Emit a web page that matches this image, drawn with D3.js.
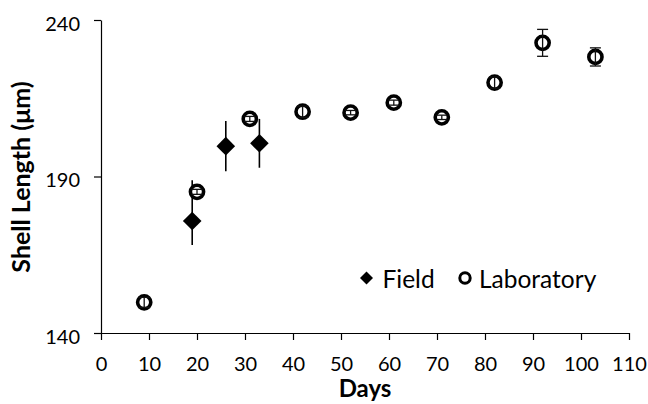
<!DOCTYPE html>
<html>
<head>
<meta charset="utf-8">
<script src="https://cdn.jsdelivr.net/npm/d3@7"></script>
<style>
  html, body { margin: 0; padding: 0; background: #fff; }
  svg { display: block; }
  text { font-family: Lato, "Open Sans", sans-serif; fill: #000; }
</style>
</head>
<body>
<svg id="chart" width="648" height="404"></svg>
<script>
// ---- data ----
const xTicks = [0, 10, 20, 30, 40, 50, 60, 70, 80, 90, 100, 110];
const yTicks = [140, 190, 240];

const fieldDays = [19, 26, 33];
const fieldLength = [175.8, 199.7, 200.6];
const fieldErrLow = [7.7, 8.0, 7.8];
const fieldErrHigh = [13.0, 8.0, 7.8];

const labDays = [9, 20, 31, 42, 52, 61, 71, 82, 92, 103];
const labLength = [149.8, 185.1, 208.4, 210.7, 210.4, 213.6, 208.9, 220.0, 232.7, 228.2];
const labErr = [1.6, 0.8, 0.8, 1.8, 0.7, 0.8, 0.7, 1.8, 4.3, 2.9];

const seriesNames = ["Field", "Laboratory"];
const xTitle = "Days";
const yTitle = "Shell Length (\u03bcm)";

// ---- chart ----
const svg = d3.select("#chart");
const x = d3.scaleLinear().domain([0, 110]).range([101, 629]);
const y = d3.scaleLinear().domain([140, 240]).range([333, 20]);

const diamond = (cx, cy, r) => `M${cx},${cy - r}L${cx + r},${cy}L${cx},${cy + r}L${cx - r},${cy}Z`;

// axes
const xAxis = svg.append("g")
  .attr("transform", `translate(0,${y(140)})`)
  .call(d3.axisBottom(x).tickValues(xTicks).tickSize(7).tickSizeOuter(0));
xAxis.selectAll("text").attr("y", 38).attr("dy", null).style("font-size", "20px");

const yAxis = svg.append("g")
  .attr("transform", `translate(${x(0)},0)`)
  .call(d3.axisLeft(y).tickValues(yTicks).tickSize(7).tickSizeOuter(0).tickPadding(14));
yAxis.selectAll("text").attr("dy", "0.5em").style("font-size", "20px");

svg.selectAll(".domain, .tick line").attr("stroke", "#000").attr("stroke-width", 1.2);

// field error bars
const field = fieldDays.map((d, i) => ({ d, v: fieldLength[i], lo: fieldErrLow[i], hi: fieldErrHigh[i] }));
svg.append("g").selectAll("line").data(field).join("line")
  .attr("x1", p => x(p.d)).attr("x2", p => x(p.d))
  .attr("y1", p => y(p.v + p.hi)).attr("y2", p => y(p.v - p.lo))
  .attr("stroke", "#000").attr("stroke-width", 1.6);

// field diamonds
svg.append("g").selectAll("path").data(field).join("path")
  .attr("d", p => diamond(x(p.d), y(p.v), 9.3))
  .attr("fill", "#000");

// lab circles
const lab = labDays.map((d, i) => ({ d, v: labLength[i], e: labErr[i] }));
svg.append("g").selectAll("circle").data(lab).join("circle")
  .attr("cx", p => x(p.d)).attr("cy", p => y(p.v)).attr("r", 6.6)
  .attr("fill", "#fff").attr("stroke", "#000").attr("stroke-width", 3.6);

// lab error bars
const eg = svg.append("g").attr("stroke", "#111").attr("stroke-width", 1.3);
eg.selectAll("line.v").data(lab).join("line").attr("class", "v")
  .attr("x1", p => x(p.d)).attr("x2", p => x(p.d))
  .attr("y1", p => y(p.v + p.e)).attr("y2", p => y(p.v - p.e));
eg.selectAll("line.t").data(lab).join("line").attr("class", "t")
  .attr("x1", p => x(p.d) - 5.5).attr("x2", p => x(p.d) + 5.5)
  .attr("y1", p => y(p.v + p.e)).attr("y2", p => y(p.v + p.e));
eg.selectAll("line.b").data(lab).join("line").attr("class", "b")
  .attr("x1", p => x(p.d) - 5.5).attr("x2", p => x(p.d) + 5.5)
  .attr("y1", p => y(p.v - p.e)).attr("y2", p => y(p.v - p.e));

// titles
svg.append("text").attr("x", 365).attr("y", 397).attr("text-anchor", "middle")
  .style("font-size", "24px").style("font-weight", "bold").text(xTitle);
svg.append("text").attr("transform", "translate(30,177) rotate(-90)").attr("text-anchor", "middle")
  .style("font-size", "25px").style("font-weight", "bold").text(yTitle);

// legend
const lg = svg.append("g");
lg.append("path").attr("d", diamond(366.5, 278, 6.5)).attr("fill", "#000");
lg.append("text").attr("x", 382.5).attr("y", 288).style("font-size", "24.5px").text(seriesNames[0]);
lg.append("circle").attr("cx", 465).attr("cy", 278).attr("r", 5.2)
  .attr("fill", "#fff").attr("stroke", "#000").attr("stroke-width", 3);
lg.append("text").attr("x", 479).attr("y", 288).style("font-size", "24.5px").text(seriesNames[1]);
</script>
</body>
</html>
